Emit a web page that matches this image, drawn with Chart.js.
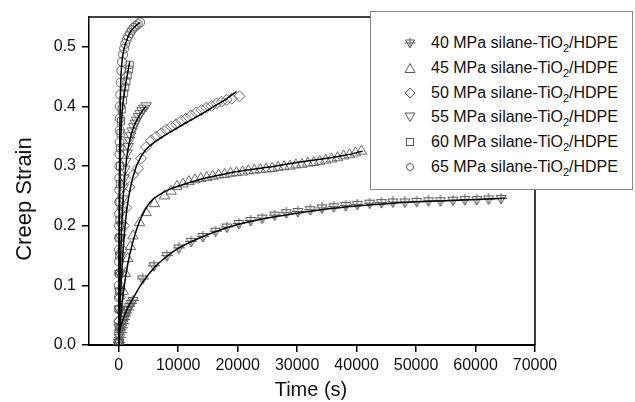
<!DOCTYPE html>
<html>
<head>
<meta charset="utf-8">
<script src="https://cdn.jsdelivr.net/npm/chart.js@4.4.1/dist/chart.umd.min.js"></script>
<style>
  html, body { margin: 0; padding: 0; background: #fff; }
  #wrap { position: relative; width: 635px; height: 402px; overflow: hidden; font-family: "Liberation Sans", Arial, sans-serif; }
  canvas { position: absolute; left: 0; top: 0; }
  #legend { position: absolute; left: 370px; top: 11px; width: 263px; height: 179px; border: 1px solid #888; background: #fff; box-sizing: border-box; }
  .row { position: absolute; left: 0; height: 20px; line-height: 20px; font-size: 16px; color: #111; white-space: nowrap; }
  .row svg { position: absolute; left: 33px; top: 4px; }
  .row span.t { position: absolute; left: 60px; top: 0; }
  .row sub { font-size: 11px; vertical-align: -4px; line-height: 0; }
  #xtitle { position: absolute; left: 211px; width: 200px; top: 378px; text-align: center; font-size: 20px; color: #111; }
  #ytitle { position: absolute; left: 24px; top: 199px; width: 200px; margin-left: -100px; margin-top: -13px; text-align: center; font-size: 22px; line-height: 26px; color: #111; transform: rotate(-90deg); }
</style>
</head>
<body>
<div id="wrap">
  <canvas id="c" width="635" height="402"></canvas>
  <div id="legend"></div>
  <div id="xtitle">Time (s)</div>
  <div id="ytitle">Creep Strain</div>
</div>
<script>
// ---------------- data ----------------
const seriesNames = ["40 MPa silane-TiO", "45 MPa silane-TiO", "50 MPa silane-TiO", "55 MPa silane-TiO", "60 MPa silane-TiO", "65 MPa silane-TiO"];
const xTicks = [0, 10000, 20000, 30000, 40000, 50000, 60000, 70000];
const yTicks = [0.0, 0.1, 0.2, 0.3, 0.4, 0.5];

// 40 MPa measured
const t40 = [0,150,300,500,700,900,1100,1300,1500,1800,2100,2400,4000,5900,8080,10100,12190,14140,16280,18180,20200,22170,24140,26210,28180,30130,32220,34180,36150,38170,40130,42200,44170,46100,48100,50100,52100,54100,56200,58200,60200,62200,64300];
const s40 = [0.003,0.012,0.02,0.028,0.035,0.042,0.048,0.053,0.058,0.064,0.069,0.074,0.11,0.132,0.149,0.162,0.173,0.181,0.19,0.197,0.203,0.208,0.212,0.217,0.221,0.223,0.226,0.229,0.231,0.233,0.235,0.237,0.238,0.239,0.239,0.240,0.241,0.241,0.242,0.243,0.243,0.244,0.245];
// 40 MPa fit
const ft40 = [0,300,800,1500,2500,4000,6000,8000,10000,13000,16000,20000,25000,30000,35000,40000,45000,50000,55000,60000,65000];
const fs40 = [0.015,0.03,0.045,0.062,0.08,0.105,0.13,0.148,0.162,0.177,0.189,0.202,0.213,0.221,0.228,0.233,0.237,0.24,0.242,0.244,0.246];

// 45 MPa measured
const t45 = [0,200,450,750,1100,1500,1950,2400,3500,4600,6000,7700,8800,9800,10800,11800,12800,13800,14800,15800,16800,17800,18800,19800,20800,21800,22800,23800,24800,25800,26800,27800,28800,29800,30800,31800,32800,33800,34800,35800,36800,37800,38800,39800,40800];
const s45 = [0.005,0.03,0.06,0.09,0.12,0.145,0.165,0.183,0.205,0.222,0.237,0.25,0.258,0.266,0.27,0.274,0.277,0.279,0.281,0.283,0.285,0.286,0.288,0.289,0.29,0.292,0.293,0.294,0.295,0.296,0.298,0.299,0.3,0.302,0.303,0.305,0.306,0.308,0.31,0.312,0.314,0.317,0.319,0.322,0.325];
// 45 MPa fit
const ft45 = [0,300,800,1500,2300,3400,4500,5500,6850,8500,10200,13500,17000,20000,25000,30000,35000,38000,41000];
const fs45 = [0,0.045,0.09,0.135,0.17,0.205,0.228,0.242,0.252,0.261,0.267,0.277,0.285,0.291,0.298,0.306,0.313,0.318,0.325];

// 50 MPa measured
const t50 = [0,100,250,400,600,900,1240,1800,2400,3200,3770,4600,5450,6290,7140,7980,8820,9660,10500,11350,12190,13030,13900,14750,15600,16450,17300,18150,19000,20300];
const s50 = [0.005,0.04,0.08,0.12,0.16,0.2,0.23,0.265,0.285,0.296,0.313,0.332,0.343,0.349,0.355,0.361,0.366,0.37,0.376,0.38,0.385,0.39,0.394,0.398,0.401,0.405,0.408,0.411,0.413,0.417];
// 50 MPa fit
const ft50 = [0,200,500,900,1400,2000,2800,3700,4600,6000,8000,10000,13000,16000,18000,19800];
const fs50 = [0,0.06,0.12,0.18,0.23,0.265,0.295,0.315,0.328,0.34,0.353,0.365,0.382,0.4,0.412,0.425];

// 55 MPa measured
const t55 = [0,50,100,160,220,290,370,450,550,650,780,900,1050,1200,1400,1600,1800,2000,2250,2500,2750,3000,3300,3600,3900,4200,4600];
const s55 = [0.005,0.03,0.06,0.09,0.12,0.15,0.18,0.2,0.225,0.245,0.265,0.28,0.295,0.308,0.322,0.333,0.343,0.351,0.359,0.366,0.372,0.377,0.383,0.388,0.393,0.397,0.401];
// 55 MPa fit
const ft55 = [0,100,250,450,700,1000,1400,1900,2500,3200,4000,4600];
const fs55 = [0,0.06,0.12,0.19,0.24,0.28,0.318,0.345,0.365,0.38,0.393,0.4];

// 60 MPa measured
const t60 = [0,10,20,35,50,70,90,115,140,170,210,250,300,370,500,700,900,1100,1300,1500,1700,1850];
const s60 = [0.005,0.03,0.06,0.09,0.12,0.15,0.18,0.21,0.24,0.27,0.3,0.33,0.355,0.375,0.395,0.41,0.422,0.432,0.442,0.452,0.462,0.47];
// 60 MPa fit
const ft60 = [0,30,80,150,250,400,600,900,1300,1850];
const fs60 = [0,0.08,0.16,0.24,0.31,0.36,0.395,0.42,0.445,0.475];

// 65 MPa measured
const t65 = [0,5,10,15,20,25,30,40,45,50,60,70,80,90,100,110,125,140,160,185,215,260,330,420,550,720,900,1100,1350,1600,1900,2200,2500,2850,3200,3600];
const s65 = [0.005,0.02,0.04,0.06,0.08,0.1,0.12,0.14,0.16,0.18,0.2,0.22,0.24,0.26,0.28,0.3,0.32,0.34,0.36,0.38,0.4,0.42,0.44,0.46,0.475,0.487,0.497,0.505,0.512,0.518,0.523,0.528,0.532,0.535,0.538,0.541];
// 65 MPa fit
const ft65 = [0,20,50,100,180,300,500,800,1200,1800,2600,3600];
const fs65 = [0,0.08,0.17,0.27,0.36,0.43,0.47,0.492,0.507,0.522,0.533,0.541];

// ---------------- build ----------------
const MARK = '#5a5a5a';
function zip(t, s) { return t.map((v, i) => ({ x: v, y: s[i] })); }

// custom marker: triangle down with cross
function makeTriPlus(size) {
  const c = document.createElement('canvas');
  c.width = size; c.height = size;
  const g = c.getContext('2d');
  g.strokeStyle = MARK; g.lineWidth = 1;
  const m = size / 2;
  g.beginPath();
  g.moveTo(1, 2.5); g.lineTo(size - 1, 2.5); g.lineTo(m, size - 1); g.closePath();
  g.moveTo(0, 5.5); g.lineTo(size, 5.5);
  g.moveTo(m, 0); g.lineTo(m, size - 1);
  g.stroke();
  return c;
}
const triPlus = makeTriPlus(12);

const markerSets = [
  { t: t40, s: s40, style: triPlus, r: 6, rot: 0 },
  { t: t45, s: s45, style: 'triangle', r: 6, rot: 0 },
  { t: t50, s: s50, style: 'rectRot', r: 5.5, rot: 0 },
  { t: t55, s: s55, style: 'triangle', r: 6, rot: 180 },
  { t: t60, s: s60, style: 'rect', r: 5, rot: 0 },
  { t: t65, s: s65, style: 'circle', r: 4.5, rot: 0 }
];
const fitSets = [[ft40, fs40], [ft45, fs45], [ft50, fs50], [ft55, fs55], [ft60, fs60], [ft65, fs65]];

const datasets = [];
fitSets.forEach((f, i) => {
  datasets.push({
    label: 'fit ' + i, data: zip(f[0], f[1]), showLine: true, borderColor: '#000', borderWidth: 1.5,
    pointRadius: 0, cubicInterpolationMode: 'monotone', fill: false, order: 0
  });
});
markerSets.forEach((m, i) => {
  datasets.push({
    label: seriesNames[i], data: zip(m.t, m.s), showLine: false, pointStyle: m.style, pointRadius: m.r,
    pointRotation: m.rot, pointBorderColor: MARK, pointBackgroundColor: 'rgba(255,255,255,0)', pointBorderWidth: 0.9, order: 1
  });
});

const framePlugin = {
  id: 'frame',
  afterDatasetsDraw(chart) {
    const { ctx, chartArea: a } = chart;
    ctx.save();
    ctx.strokeStyle = '#000';
    ctx.lineWidth = 1.5;
    ctx.beginPath();
    ctx.moveTo(a.left, a.top); ctx.lineTo(a.right, a.top); ctx.lineTo(a.right, a.bottom);
    ctx.stroke();
    ctx.restore();
  }
};

const fontTick = { family: '"Liberation Sans", Arial, sans-serif', size: 16 };

new Chart(document.getElementById('c'), {
  type: 'scatter',
  data: { datasets },
  options: {
    responsive: false, animation: false,
    layout: { padding: { left: 0, right: 100, top: 17, bottom: 0 } },
    plugins: { legend: { display: false }, tooltip: { enabled: false } },
    scales: {
      x: {
        type: 'linear', min: -5000, max: 70000,
        afterBuildTicks: (ax) => { ax.ticks = xTicks.map(v => ({ value: v })); },
        afterFit: (ax) => { ax.height = 57; },
        ticks: { color: '#111', font: fontTick, padding: 4, maxRotation: 0, autoSkip: false, callback: (v) => String(v) },
        grid: { display: true, drawOnChartArea: false, drawTicks: true, tickLength: 7, color: '#000', lineWidth: 1.5 },
        border: { display: true, color: '#000', width: 2 }
      },
      y: {
        type: 'linear', min: 0, max: 0.55,
        afterBuildTicks: (ax) => { ax.ticks = yTicks.map(v => ({ value: v })); },
        afterFit: (ax) => { ax.width = 89; },
        ticks: { color: '#111', font: fontTick, padding: 6, autoSkip: false, callback: (v) => Number(v).toFixed(1) },
        grid: { display: true, drawOnChartArea: false, drawTicks: true, tickLength: 7, color: '#000', lineWidth: 1.5 },
        border: { display: true, color: '#000', width: 1.5 }
      }
    }
  },
  plugins: [framePlugin]
});

// ---------------- legend (HTML) ----------------
const legendIcons = [
  '<svg width="12" height="12"><path d="M1.5 3 H10.5 L6 11 Z M0.5 6 H11.5 M6 0.5 V11" fill="none" stroke="#5a5a5a" stroke-width="1"/></svg>',
  '<svg width="12" height="12"><path d="M6 1.5 L11 10.5 H1 Z" fill="none" stroke="#5a5a5a" stroke-width="1"/></svg>',
  '<svg width="12" height="12"><path d="M6 1 L11 6 L6 11 L1 6 Z" fill="none" stroke="#5a5a5a" stroke-width="1"/></svg>',
  '<svg width="12" height="12"><path d="M1 2 H11 L6 10.5 Z" fill="none" stroke="#5a5a5a" stroke-width="1"/></svg>',
  '<svg width="12" height="12"><rect x="2.5" y="2.5" width="7" height="7" fill="none" stroke="#5a5a5a" stroke-width="1"/></svg>',
  '<svg width="12" height="12"><circle cx="6" cy="6" r="3.5" fill="none" stroke="#5a5a5a" stroke-width="1"/></svg>'
];
const legendRowTops = [21, 46, 71, 95, 120, 145];
const leg = document.getElementById('legend');
seriesNames.forEach((n, i) => {
  const d = document.createElement('div');
  d.className = 'row';
  d.style.top = legendRowTops[i] + 'px';
  d.innerHTML = legendIcons[i] + '<span class="t">' + n + '<sub>2</sub>/HDPE</span>';
  leg.appendChild(d);
});
</script>
</body>
</html>
